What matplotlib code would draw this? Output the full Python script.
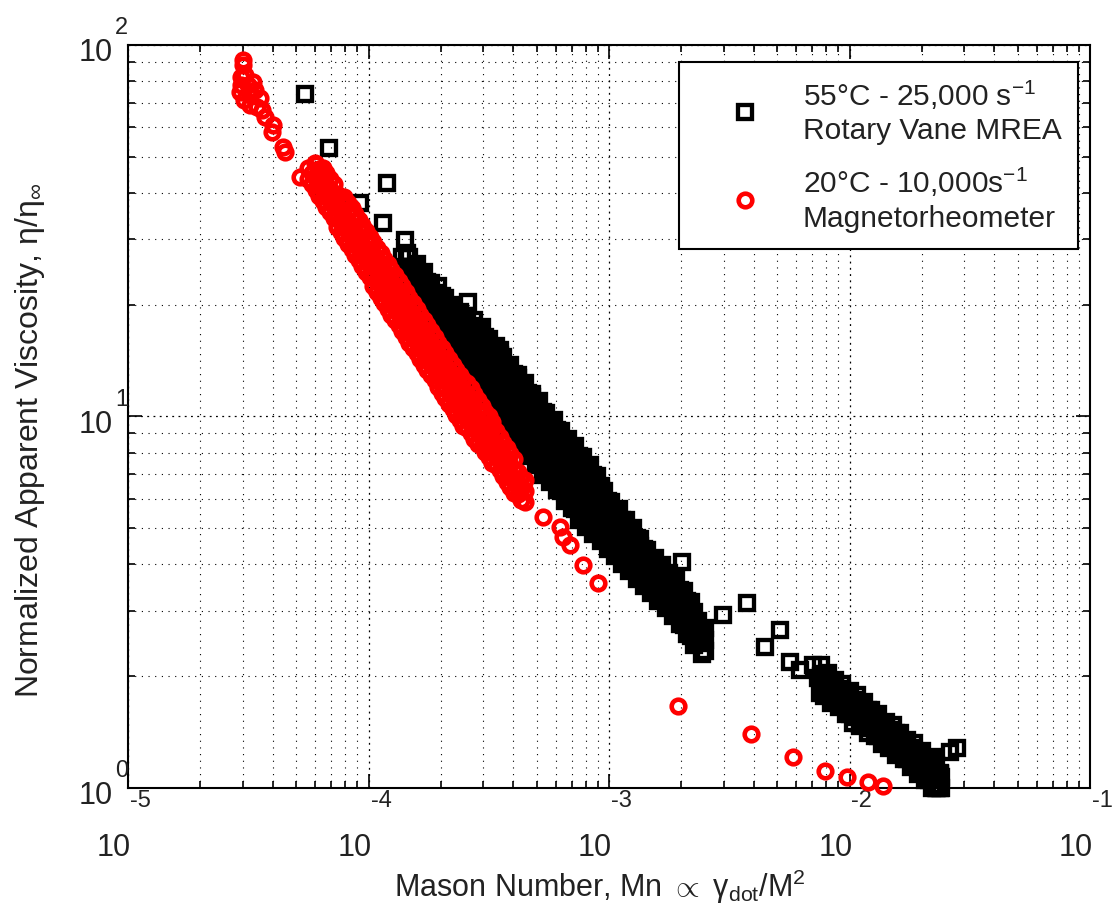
import numpy as np
import matplotlib
matplotlib.use("Agg")
import matplotlib.pyplot as plt
from matplotlib.lines import Line2D
from matplotlib.ticker import LogLocator, NullFormatter

plt.rcParams['font.family'] = ['Liberation Sans', 'DejaVu Sans']
plt.rcParams['mathtext.fontset'] = 'custom'
plt.rcParams['mathtext.rm'] = 'Liberation Sans'
plt.rcParams['mathtext.it'] = 'Liberation Sans:italic'
plt.rcParams['mathtext.bf'] = 'Liberation Sans:bold'

# ---------------- data ----------------
# Rotary Vane MREA (black squares) - dense band, one Mn value per column
rv_band_mn = [1.380e-4, 1.479e-4, 1.585e-4, 1.698e-4, 1.820e-4, 1.950e-4, 2.089e-4, 2.239e-4,
              2.399e-4, 2.570e-4, 2.754e-4, 2.951e-4, 3.162e-4, 3.388e-4, 3.631e-4, 3.890e-4,
              4.169e-4, 4.467e-4, 4.786e-4, 5.129e-4, 5.495e-4, 5.888e-4, 6.310e-4, 6.761e-4,
              7.244e-4, 7.762e-4, 8.318e-4, 8.913e-4, 9.550e-4, 1.023e-3, 1.096e-3, 1.175e-3,
              1.259e-3, 1.349e-3, 1.445e-3, 1.549e-3, 1.660e-3, 1.778e-3, 1.905e-3, 2.042e-3,
              2.188e-3, 2.344e-3, 2.512e-3]
rv_band_eta = [
    [25.1, 26.9], [23.4, 25.1, 26.9], [21.9, 23.4, 25.7], [20.4, 22.4, 24.5],
    [19.1, 20.9, 22.9], [17.8, 19.1, 20.4, 22.4], [17.0, 18.2, 19.5, 20.9],
    [15.8, 17.0, 18.6, 20.0], [14.8, 16.2, 17.4, 19.1], [13.5, 14.8, 15.8, 17.0, 18.6],
    [12.6, 13.5, 14.5, 15.8, 17.0, 18.2], [11.7, 12.6, 13.8, 14.8, 16.2, 17.4],
    [11.2, 12.0, 12.9, 14.1, 15.1, 16.2], [10.5, 11.2, 12.3, 13.2, 14.1, 15.5],
    [10.0, 10.7, 11.5, 12.6, 13.5, 14.5], [9.33, 10.0, 11.0, 11.7, 12.9, 13.8],
    [8.91, 9.55, 10.2, 11.2, 12.0, 12.9], [8.32, 8.91, 9.77, 10.5, 11.5, 12.3],
    [7.94, 8.51, 9.12, 10.0, 10.7, 11.5], [7.41, 8.13, 8.71, 9.33, 10.2, 11.0],
    [7.08, 7.59, 8.32, 8.91, 9.55, 10.2], [6.76, 7.24, 7.76, 8.51, 9.12, 9.77],
    [6.31, 6.76, 7.41, 7.94, 8.51, 9.12], [6.03, 6.46, 6.92, 7.59, 8.13, 8.71],
    [5.62, 6.17, 6.61, 7.08, 7.76, 8.32], [5.37, 5.75, 6.31, 6.76, 7.24, 7.76],
    [5.13, 5.50, 5.89, 6.46, 6.92, 7.41], [4.90, 5.25, 5.62, 6.03, 6.46, 6.92],
    [4.68, 5.01, 5.37, 5.75, 6.31], [4.47, 4.79, 5.13, 5.50, 5.89],
    [4.27, 4.57, 4.90, 5.25, 5.62], [4.07, 4.37, 4.68, 5.01, 5.25],
    [3.89, 4.17, 4.37, 4.68, 5.01], [3.72, 3.98, 4.17, 4.47, 4.68],
    [3.55, 3.80, 4.07, 4.37], [3.39, 3.63, 3.89, 4.17], [3.24, 3.47, 3.72, 3.98],
    [3.09, 3.31, 3.55, 3.80], [2.95, 3.16, 3.39, 3.63], [2.75, 2.95, 3.16, 3.39],
    [2.57, 2.75, 2.95, 3.16], [2.45, 2.63, 2.82], [2.34, 2.51, 2.69],
]
rv_band2_mn = [1.429e-4, 1.531e-4, 1.641e-4, 1.758e-4, 1.884e-4, 2.018e-4, 2.163e-4, 2.317e-4,
               2.483e-4, 2.661e-4, 2.851e-4, 3.055e-4, 3.273e-4, 3.508e-4, 3.758e-4, 4.027e-4,
               4.315e-4, 4.624e-4, 4.955e-4, 5.309e-4, 5.689e-4, 6.095e-4, 6.531e-4, 6.998e-4,
               7.499e-4, 8.035e-4, 8.610e-4, 9.226e-4, 9.886e-4, 1.059e-3, 1.135e-3, 1.216e-3,
               1.303e-3, 1.396e-3, 1.496e-3, 1.603e-3, 1.718e-3, 1.841e-3, 1.972e-3, 2.113e-3,
               2.265e-3, 2.427e-3]
rv_band2_eta = [
    [23.6, 25.3], [22.0, 23.6, 25.3], [20.6, 22.0, 24.2], [19.2, 21.1, 23.0],
    [18.0, 19.6, 21.5], [16.7, 18.0, 19.2, 21.1], [16.0, 17.1, 18.3, 19.6],
    [14.9, 16.0, 17.5, 18.8], [13.9, 15.2, 16.4, 18.0], [12.7, 13.9, 14.9, 16.0, 17.5],
    [11.8, 12.7, 13.6, 14.9, 16.0, 17.1], [11.0, 11.8, 13.0, 13.9, 15.2, 16.4],
    [10.5, 11.3, 12.1, 13.3, 14.2, 15.2], [9.87, 10.5, 11.6, 12.4, 13.3, 14.6],
    [9.40, 10.1, 10.8, 11.8, 12.7, 13.6], [8.77, 9.40, 10.3, 11.0, 12.1, 13.0],
    [8.38, 8.98, 9.59, 10.5, 11.3, 12.1], [7.82, 8.38, 9.18, 9.87, 10.8, 11.6],
    [7.46, 8.00, 8.57, 9.40, 10.1, 10.8], [6.97, 7.64, 8.19, 8.77, 9.59, 10.3],
    [6.66, 7.13, 7.82, 8.38, 8.98, 9.59], [6.35, 6.81, 7.29, 8.00, 8.57, 9.18],
    [5.93, 6.35, 6.97, 7.46, 8.00, 8.57], [5.67, 6.07, 6.50, 7.13, 7.64, 8.19],
    [5.28, 5.80, 6.21, 6.66, 7.29, 7.82], [5.05, 5.41, 5.93, 6.35, 6.81, 7.29],
    [4.82, 5.17, 5.54, 6.07, 6.50, 6.97], [4.61, 4.94, 5.28, 5.67, 6.07, 6.50],
    [4.40, 4.71, 5.05, 5.41, 5.93], [4.20, 4.50, 4.82, 5.17, 5.54],
    [4.01, 4.30, 4.61, 4.94, 5.28], [3.83, 4.11, 4.40, 4.71, 4.94],
    [3.66, 3.92, 4.11, 4.40, 4.71], [3.50, 3.74, 3.92, 4.20, 4.40],
    [3.34, 3.57, 3.83, 4.11], [3.19, 3.41, 3.66, 3.92], [3.05, 3.26, 3.50, 3.74],
    [2.90, 3.11, 3.34, 3.57], [2.77, 2.97, 3.19, 3.41], [2.59, 2.77, 2.97, 3.19],
    [2.42, 2.59, 2.77, 2.97], [2.30, 2.47, 2.65],
]
# Rotary Vane MREA - second (high Mn) band
rv_tail_mn = [7.59e-3, 8.13e-3, 8.71e-3, 9.33e-3, 1.000e-2, 1.072e-2, 1.148e-2, 1.230e-2,
              1.318e-2, 1.413e-2, 1.514e-2, 1.622e-2, 1.738e-2, 1.862e-2, 1.995e-2, 2.138e-2,
              2.291e-2, 2.399e-2,
              7.852e-3, 8.414e-3, 9.016e-3, 9.661e-3, 1.035e-2, 1.109e-2, 1.189e-2, 1.274e-2,
              1.365e-2, 1.462e-2, 1.567e-2, 1.679e-2, 1.799e-2, 1.928e-2, 2.065e-2, 2.213e-2,
              2.371e-2]
rv_tail_eta = [
    [1.86, 2.00, 2.14], [1.78, 1.91, 2.04], [1.74, 1.86, 1.95], [1.66, 1.78, 1.91],
    [1.58, 1.70, 1.82], [1.55, 1.66, 1.78], [1.48, 1.58, 1.70], [1.45, 1.55, 1.62],
    [1.38, 1.48, 1.58], [1.35, 1.45, 1.51], [1.29, 1.38, 1.48], [1.26, 1.32, 1.41],
    [1.20, 1.29, 1.35], [1.15, 1.23, 1.32], [1.10, 1.18, 1.26], [1.05, 1.12, 1.20],
    [1.00, 1.07, 1.15], [1.00, 1.07],
    [1.77, 1.90, 2.03], [1.69, 1.81, 1.94], [1.65, 1.77, 1.85], [1.58, 1.69, 1.81],
    [1.50, 1.62, 1.73], [1.47, 1.58, 1.69], [1.41, 1.50, 1.62], [1.38, 1.47, 1.54],
    [1.31, 1.41, 1.50], [1.28, 1.38, 1.43], [1.23, 1.31, 1.41], [1.20, 1.25, 1.34],
    [1.14, 1.23, 1.28], [1.09, 1.17, 1.25], [1.05, 1.12, 1.20], [1.00, 1.06, 1.14],
    [1.00, 1.02, 1.09],
]
# Rotary Vane MREA - scattered squares
rv_iso_mn = [5.45e-5, 6.85e-5, 1.19e-4, 9.22e-5, 1.15e-4, 1.42e-4, 1.45e-4, 1.45e-4,
             1.53e-4, 1.77e-4, 2.59e-4, 3.52e-4, 4.19e-4, 4.79e-4,
             2.01e-3, 2.98e-3, 3.75e-3, 4.45e-3, 5.14e-3, 5.66e-3, 6.22e-3, 7.05e-3,
             7.39e-3, 7.54e-3,
             2.62e-2, 2.80e-2, 2.38e-2, 2.22e-2, 2.31e-2]
rv_iso_eta = [73.8, 52.8, 42.5, 37.6, 33.2, 29.9, 27.5, 25.3,
              23.0, 22.6, 20.3, 15.1, 12.7, 11.3,
              4.06, 2.92, 3.15, 2.40, 2.66, 2.18, 2.08, 2.14,
              1.98, 1.80,
              1.25, 1.28, 1.10, 1.21, 1.00]

# Magnetorheometer (red circles) - dense band
mrm_band_mn = [5.62e-5, 6.03e-5, 6.46e-5, 6.92e-5, 7.41e-5, 7.94e-5, 8.51e-5, 9.12e-5,
               9.77e-5, 1.047e-4, 1.122e-4, 1.202e-4, 1.288e-4, 1.380e-4, 1.479e-4, 1.585e-4,
               1.698e-4, 1.820e-4, 1.950e-4, 2.089e-4, 2.239e-4, 2.399e-4, 2.570e-4, 2.754e-4,
               2.951e-4, 3.162e-4, 3.388e-4, 3.631e-4, 3.890e-4, 4.169e-4, 4.467e-4]
mrm_band_eta = [
    [43.7, 46.8], [40.7, 43.7, 47.9], [38.0, 40.7, 43.7, 46.8], [35.5, 38.0, 40.7, 43.7],
    [32.4, 34.7, 37.2, 39.8], [30.2, 32.4, 34.7, 37.2, 38.9], [28.2, 30.2, 32.4, 34.7, 36.3],
    [26.3, 28.2, 30.2, 32.4, 33.9], [24.5, 26.3, 28.2, 30.2, 31.6],
    [22.4, 24.0, 25.7, 27.5, 29.5], [20.9, 22.4, 24.0, 25.7, 27.5],
    [19.5, 20.9, 22.4, 24.0, 25.7], [18.2, 19.5, 20.9, 22.4, 24.0],
    [17.0, 18.2, 19.5, 20.9, 22.4], [15.8, 17.0, 18.2, 19.5, 20.9],
    [14.8, 15.8, 17.0, 18.2, 19.5], [13.8, 14.8, 15.8, 17.0, 18.2],
    [12.9, 13.8, 14.8, 15.8, 17.0], [12.0, 12.9, 13.8, 14.8, 15.8],
    [11.2, 12.0, 12.9, 13.8, 14.8], [10.5, 11.2, 12.0, 12.9, 13.8],
    [9.77, 10.5, 11.2, 12.0, 12.9], [9.33, 10.0, 10.7, 11.5, 12.3],
    [8.71, 9.33, 10.0, 10.7, 11.5], [8.32, 8.91, 9.55, 10.2, 10.7],
    [7.76, 8.32, 8.91, 9.55, 10.0], [7.41, 7.94, 8.51, 9.12], [6.92, 7.41, 7.94, 8.51],
    [6.46, 6.92, 7.41, 7.94], [6.17, 6.61, 7.08], [5.89, 6.31, 6.76],
]
mrm_band2_mn = [5.821e-5, 6.237e-5, 6.683e-5, 7.161e-5, 7.674e-5, 8.222e-5, 8.810e-5, 9.441e-5,
                1.012e-4, 1.084e-4, 1.161e-4, 1.245e-4, 1.334e-4, 1.429e-4, 1.531e-4, 1.641e-4,
                1.758e-4, 1.884e-4, 2.018e-4, 2.163e-4, 2.317e-4, 2.483e-4, 2.661e-4, 2.851e-4,
                3.055e-4, 3.273e-4, 3.508e-4, 3.758e-4, 4.027e-4, 4.315e-4]
mrm_band2_eta = [
    [42.2, 45.2], [39.3, 42.2, 46.3], [36.7, 39.3, 42.2, 45.2], [34.3, 36.7, 39.3, 42.2],
    [31.3, 33.5, 35.9, 38.4], [29.2, 31.3, 33.5, 35.9, 37.6], [27.2, 29.2, 31.3, 33.5, 35.1],
    [25.4, 27.2, 29.2, 31.3, 32.7], [23.7, 25.4, 27.2, 29.2, 30.5],
    [21.6, 23.2, 24.8, 26.6, 28.5], [20.2, 21.6, 23.2, 24.8, 26.6],
    [18.8, 20.2, 21.6, 23.2, 24.8], [17.6, 18.8, 20.2, 21.6, 23.2],
    [16.4, 17.6, 18.8, 20.2, 21.6], [15.3, 16.4, 17.6, 18.8, 20.2],
    [14.3, 15.3, 16.4, 17.6, 18.8], [13.3, 14.3, 15.3, 16.4, 17.6],
    [12.5, 13.3, 14.3, 15.3, 16.4], [11.6, 12.5, 13.3, 14.3, 15.3],
    [10.8, 11.6, 12.5, 13.3, 14.3], [10.1, 10.8, 11.6, 12.5, 13.3],
    [9.44, 10.1, 10.8, 11.6, 12.5], [9.01, 9.66, 10.3, 11.1, 11.9],
    [8.41, 9.01, 9.66, 10.3, 11.1], [8.04, 8.61, 9.23, 9.85, 10.3],
    [7.50, 8.04, 8.61, 9.23, 9.66], [7.16, 7.67, 8.22, 8.81], [6.68, 7.16, 7.67, 8.22],
    [6.24, 6.68, 7.16, 7.67], [5.96, 6.39, 6.84],
]
# Magnetorheometer - scattered circles
mrm_iso_mn = [3.01e-5, 3.01e-5, 2.96e-5, 3.07e-5, 3.31e-5, 3.14e-5, 2.92e-5, 3.21e-5,
              3.54e-5, 3.04e-5, 3.21e-5, 3.44e-5, 3.61e-5, 3.71e-5, 4.01e-5, 3.97e-5,
              4.41e-5, 4.49e-5, 2.95e-5, 3.37e-5, 5.19e-5, 6.00e-5, 6.17e-5,
              5.32e-4, 6.25e-4, 6.44e-4, 6.89e-4, 7.80e-4, 9.00e-4,
              1.94e-3, 3.89e-3, 5.82e-3, 7.91e-3, 9.77e-3, 1.19e-2, 1.38e-2]
mrm_iso_eta = [91.1, 88.5, 82.0, 83.0, 79.5, 78.0, 74.7, 73.3,
               72.0, 71.1, 68.9, 68.1, 66.8, 64.0, 60.9, 58.3,
               53.1, 51.5, 78.0, 75.7, 44.2, 48.2, 45.6,
               5.36, 5.04, 4.74, 4.51, 3.98, 3.56,
               1.66, 1.40, 1.21, 1.11, 1.07, 1.04, 1.01]

legend_labels = ['55\u00b0C - 25,000 s$^{-1}$\nRotary Vane MREA',
                 '20\u00b0C - 10,000s$^{-1}$\nMagnetorheometer']
x_exponents = [-5, -4, -3, -2, -1]
y_exponents = [0, 1, 2]


def flatten(mn_cols, eta_cols):
    xs, ys = [], []
    for m, etas in zip(mn_cols, eta_cols):
        xs.extend([m] * len(etas))
        ys.extend(etas)
    return xs, ys


rv_parts = [flatten(rv_band_mn, rv_band_eta), flatten(rv_band2_mn, rv_band2_eta),
            flatten(rv_tail_mn, rv_tail_eta), (rv_iso_mn, rv_iso_eta)]
rv_x = np.concatenate([p[0] for p in rv_parts])
rv_y = np.concatenate([p[1] for p in rv_parts])
mr_parts = [flatten(mrm_band_mn, mrm_band_eta), flatten(mrm_band2_mn, mrm_band2_eta),
            (mrm_iso_mn, mrm_iso_eta)]
mr_x = np.concatenate([p[0] for p in mr_parts])
mr_y = np.concatenate([p[1] for p in mr_parts])

# ---------------- figure ----------------
W, H = 1119, 905
fig = plt.figure(figsize=(W / 100, H / 100), dpi=100)
ax = fig.add_axes([128 / W, 117 / H, 962 / W, 743 / H])
ax.set_xscale('log')
ax.set_yscale('log')

sq_kw = dict(ls='none', marker='s', ms=10, mew=3.1, mec='k', mfc='none', clip_on=False)
ci_kw = dict(ls='none', marker='o', ms=9.8, mew=3.3, mec='#ff0000', mfc='none', clip_on=False)
ax.plot(rv_x, rv_y, zorder=3, **sq_kw)
ax.plot(mr_x, mr_y, zorder=4, **ci_kw)

ax.set_xlim(1e-5, 1e-1)
ax.set_ylim(1, 100)

ax.xaxis.set_major_locator(LogLocator(base=10, numticks=10))
ax.yaxis.set_major_locator(LogLocator(base=10, numticks=10))
ax.xaxis.set_minor_locator(LogLocator(base=10, subs=np.arange(2, 10), numticks=50))
ax.yaxis.set_minor_locator(LogLocator(base=10, subs=np.arange(2, 10), numticks=50))
ax.xaxis.set_minor_formatter(NullFormatter())
ax.yaxis.set_minor_formatter(NullFormatter())
ax.tick_params(which='both', direction='in', top=True, right=True,
               labelbottom=False, labelleft=False, color='k', width=1.2)
ax.tick_params(which='major', length=10)
ax.tick_params(which='minor', length=5)

ax.grid(which='major', color='k', ls=(0, (1.5, 3.5)), lw=0.9)
ax.grid(which='minor', color='k', ls=(0, (1, 5)), lw=0.8)
ax.set_axisbelow(True)
for sp in ax.spines.values():
    sp.set_linewidth(1.5)
    sp.set_color('k')

txt_color = '#222222'
# x tick labels (MATLAB style: exponent above the base)
for e in x_exponents:
    ax.annotate('10', xy=(10.0 ** e, 0), xycoords=('data', 'axes fraction'),
                xytext=(3, -60), textcoords='offset pixels', ha='right', va='center',
                fontsize=22, color=txt_color, annotation_clip=False)
    ax.annotate(str(e), xy=(10.0 ** e, 0), xycoords=('data', 'axes fraction'),
                xytext=(2, -13), textcoords='offset pixels', ha='left', va='center',
                fontsize=17, color=txt_color, annotation_clip=False)
# y tick labels
for e in y_exponents:
    ax.annotate('10', xy=(0, 10.0 ** e), xycoords=('axes fraction', 'data'),
                xytext=(-15, -8), textcoords='offset pixels', ha='right', va='center',
                fontsize=22, color=txt_color, annotation_clip=False)
    ax.annotate(str(e), xy=(0, 10.0 ** e), xycoords=('axes fraction', 'data'),
                xytext=(-13, 17), textcoords='offset pixels', ha='left', va='center',
                fontsize=17, color=txt_color, annotation_clip=False)

fig.text(600 / W, 1 - 887 / H,
         r'Mason Number, Mn $\propto$ $\mathregular{\gamma_{dot}/M^2}$',
         ha='center', va='center', fontsize=22, color=txt_color)
fig.text(30 / W, 1 - 440 / H,
         r'Normalized Apparent Viscosity, $\mathregular{\eta/\eta_{\infty}}$',
         ha='center', va='center', rotation=90, fontsize=23, color=txt_color)

handles = [Line2D([], [], **sq_kw), Line2D([], [], **ci_kw)]
leg = ax.legend(handles, legend_labels, loc='upper right',
                bbox_to_anchor=(1078 / W, 1 - 62 / H), bbox_transform=fig.transFigure,
                frameon=True, fancybox=False, edgecolor='k', framealpha=1,
                fontsize=21.5, handlelength=3.3, handletextpad=0.3, borderpad=0.55,
                labelspacing=0.7, borderaxespad=0)
leg.get_frame().set_linewidth(1.5)
for t in leg.get_texts():
    t.set_color(txt_color)
    t.set_linespacing(1.25)

fig.savefig('out.png', dpi=100)
